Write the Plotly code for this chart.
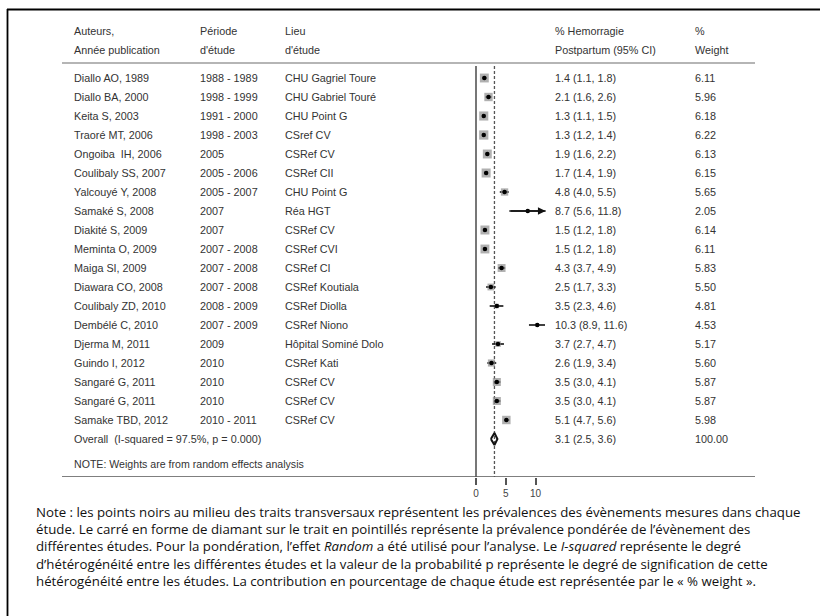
import plotly.graph_objects as go

# ---------------- data ----------------
authors = ["Diallo AO, 1989", "Diallo BA, 2000", "Keita S, 2003", "Traoré MT, 2006",
           "Ongoiba  IH, 2006", "Coulibaly SS, 2007", "Yalcouyé Y, 2008", "Samaké S, 2008",
           "Diakité S, 2009", "Meminta O, 2009", "Maiga SI, 2009", "Diawara CO, 2008",
           "Coulibaly ZD, 2010", "Dembélé C, 2010", "Djerma M, 2011", "Guindo I, 2012",
           "Sangaré G, 2011", "Sangaré G, 2011", "Samake TBD, 2012"]
periods = ["1988 - 1989", "1998 - 1999", "1991 - 2000", "1998 - 2003", "2005", "2005 - 2006",
           "2005 - 2007", "2007", "2007", "2007 - 2008", "2007 - 2008", "2007 - 2008",
           "2008 - 2009", "2007 - 2009", "2009", "2010", "2010", "2010", "2010 - 2011"]
lieux = ["CHU Gagriel Toure", "CHU Gabriel Touré", "CHU Point G", "CSref CV", "CSRef CV",
         "CSRef CII", "CHU Point G", "Réa HGT", "CSRef CV", "CSRef CVI", "CSRef CI",
         "CSRef Koutiala", "CSRef Diolla", "CSRef Niono", "Hôpital Sominé Dolo", "CSRef Kati",
         "CSRef CV", "CSRef CV", "CSRef CV"]
est = [1.4, 2.1, 1.3, 1.3, 1.9, 1.7, 4.8, 8.7, 1.5, 1.5, 4.3, 2.5, 3.5, 10.3, 3.7, 2.6, 3.5, 3.5, 5.1]
lo = [1.1, 1.6, 1.1, 1.2, 1.6, 1.4, 4.0, 5.6, 1.2, 1.2, 3.7, 1.7, 2.3, 8.9, 2.7, 1.9, 3.0, 3.0, 4.7]
hi = [1.8, 2.6, 1.5, 1.4, 2.2, 1.9, 5.5, 11.8, 1.8, 1.8, 4.9, 3.3, 4.6, 11.6, 4.7, 3.4, 4.1, 4.1, 5.6]
weights = [6.11, 5.96, 6.18, 6.22, 6.13, 6.15, 5.65, 2.05, 6.14, 6.11, 5.83, 5.50, 4.81, 4.53,
           5.17, 5.60, 5.87, 5.87, 5.98]
overall_label = "Overall  (I-squared = 97.5%, p = 0.000)"
overall_est, overall_lo, overall_hi, overall_w = 3.1, 2.5, 3.6, 100.00
x_ticks = [0, 5, 10]
x_max_drawn = 11.7

headers = [("Auteurs,", "Année publication"), ("Période", "d'étude"), ("Lieu", "d'étude"),
           ("% Hemorragie", "Postpartum (95% CI)"), ("%", "Weight")]
note_small = "NOTE: Weights are from random effects analysis"
note_lines = [
    "Note : les points noirs au milieu des traits transversaux représentent les prévalences des évènements mesures dans chaque",
    "étude. Le carré en forme de diamant sur le trait en pointillés représente la prévalence pondérée de l’évènement des",
    "différentes études. Pour la pondération, l’effet <i>Random</i> a été utilisé pour l’analyse. Le <i>I-squared</i> représente le degré",
    "d’hétérogénéité entre les différentes études et la valeur de la probabilité p représente le degré de signification de cette",
    "hétérogénéité entre les études. La contribution en pourcentage de chaque étude est représentée par le « % weight ».",
]

# ---------------- layout geometry (pixels) ----------------
W, H = 820, 616
ROW0, ROWH = 78, 19          # y pixel of first study row, row pitch
AXIS_PX = 477                # bottom line / x-axis position
X0_PX, PX_PER_UNIT = 476, 5.95

def ypx(p):  # pixel -> row units
    return (p - ROW0) / ROWH

def xp(p):   # pixel -> paper x
    return p / W

def yp(p):   # pixel -> paper y
    return 1 - p / H

n = len(authors)
rows = list(range(n))
overall_row = n

TABLE_FONT = dict(family="Liberation Sans, Arial, sans-serif", size=10.8, color="#333333")

fig = go.Figure()

# CI lines
cx, cy = [], []
for i in rows:
    cx += [lo[i], min(hi[i], x_max_drawn), None]
    cy += [i, i, None]
fig.add_trace(go.Scatter(x=cx, y=cy, mode="lines", line=dict(color="#111111", width=1.6),
                         hoverinfo="skip", showlegend=False))

# weight squares
sizes = [max(0.0, 3.4 * (w - 3.5)) for w in weights]
fig.add_trace(go.Scatter(x=est, y=rows, mode="markers",
                         marker=dict(symbol="square", size=sizes, color="#8f8f8f",
                                     line=dict(width=0)),
                         hoverinfo="skip", showlegend=False))
# point estimates
fig.add_trace(go.Scatter(x=est, y=rows, mode="markers",
                         marker=dict(symbol="circle", size=4.5, color="#000000"),
                         hoverinfo="skip", showlegend=False))

# overall diamond
dh = 0.32
fig.add_trace(go.Scatter(x=[overall_lo, overall_est, overall_hi, overall_est, overall_lo],
                         y=[overall_row, overall_row - dh, overall_row, overall_row + dh, overall_row],
                         mode="lines", line=dict(color="#111111", width=2),
                         hoverinfo="skip", showlegend=False))

# arrows for CIs beyond drawn range
for i in rows:
    if hi[i] > x_max_drawn:
        fig.add_annotation(x=x_max_drawn, y=i, ax=lo[i], ay=i, xref="x", yref="y",
                           axref="x", ayref="y", text="", showarrow=True,
                           arrowhead=2, arrowsize=1.1, arrowwidth=1.4, arrowcolor="#111111")

# ---------------- table text ----------------
col_x = [72, 198, 283, 553, 693]
for cx_px, (h1, h2) in zip(col_x, headers):
    for txt, p in ((h1, 31), (h2, 50)):
        fig.add_annotation(x=xp(cx_px), y=ypx(p), xref="paper", yref="y", text=txt,
                           showarrow=False, xanchor="left", yanchor="middle", font=TABLE_FONT)

for i in rows:
    vals = [authors[i], periods[i], lieux[i],
            f"{est[i]:.1f} ({lo[i]:.1f}, {hi[i]:.1f})", f"{weights[i]:.2f}"]
    for cx_px, txt in zip(col_x, vals):
        fig.add_annotation(x=xp(cx_px), y=i, xref="paper", yref="y", text=txt,
                           showarrow=False, xanchor="left", yanchor="middle", font=TABLE_FONT)

for cx_px, txt in zip([col_x[0], col_x[3], col_x[4]],
                      [overall_label, f"{overall_est:.1f} ({overall_lo:.1f}, {overall_hi:.1f})",
                       f"{overall_w:.2f}"]):
    fig.add_annotation(x=xp(cx_px), y=overall_row, xref="paper", yref="y", text=txt,
                       showarrow=False, xanchor="left", yanchor="middle", font=TABLE_FONT)

fig.add_annotation(x=xp(72), y=ypx(464), xref="paper", yref="y", text=note_small,
                   showarrow=False, xanchor="left", yanchor="middle",
                   font=dict(family="Liberation Sans, Arial, sans-serif", size=10.6, color="#333333"))

# note paragraph (one block, left aligned)
fig.add_annotation(x=xp(34), y=yp(546), xref="paper", yref="paper", text="<br>".join(note_lines),
                   showarrow=False, xanchor="left", yanchor="middle", align="left",
                   font=dict(family="Open Sans, sans-serif", size=13.25, color="#111111"))

# ---------------- lines ----------------
shapes = [
    # header separator
    dict(type="line", xref="paper", yref="y", x0=xp(62), x1=xp(755), y0=ypx(63), y1=ypx(63),
         line=dict(color="#b5b5b5", width=2)),
    # bottom line / axis
    dict(type="line", xref="paper", yref="y", x0=xp(62), x1=xp(755), y0=ypx(AXIS_PX), y1=ypx(AXIS_PX),
         line=dict(color="#555555", width=1.6)),
    # vertical null line
    dict(type="line", xref="x", yref="y", x0=0, x1=0, y0=ypx(66), y1=ypx(AXIS_PX),
         line=dict(color="#555555", width=1.6)),
    # dashed overall line
    dict(type="line", xref="x", yref="y", x0=overall_est, x1=overall_est, y0=ypx(66), y1=ypx(AXIS_PX),
         line=dict(color="#555555", width=1.3, dash="3px,2px")),
    # frame
    dict(type="line", xref="paper", yref="paper", x0=xp(7), x1=1.0, y0=yp(9.5), y1=yp(9.5),
         line=dict(color="#000000", width=2)),
    dict(type="line", xref="paper", yref="paper", x0=xp(7.5), x1=xp(7.5), y0=yp(9), y1=0,
         line=dict(color="#000000", width=1.8)),
]
for s in shapes:
    fig.add_shape(**s, layer="below")

fig.update_layout(
    width=W, height=H, margin=dict(l=0, r=0, t=0, b=0),
    paper_bgcolor="white", plot_bgcolor="white", showlegend=False,
    xaxis=dict(range=[-X0_PX / PX_PER_UNIT, (W - X0_PX) / PX_PER_UNIT], domain=[0, 1],
               tickvals=x_ticks, ticktext=[str(t) for t in x_ticks], ticks="outside",
               ticklen=7, tickwidth=1.5, tickcolor="#555555", showline=False,
               showgrid=False, zeroline=False,
               tickfont=dict(family="Liberation Sans, Arial, sans-serif", size=10, color="#444444")),
    yaxis=dict(range=[ypx(AXIS_PX), ypx(0)], domain=[1 - AXIS_PX / H, 1],
               showticklabels=False, showgrid=False, zeroline=False, showline=False, ticks=""),
)

fig.write_html("out.html")
